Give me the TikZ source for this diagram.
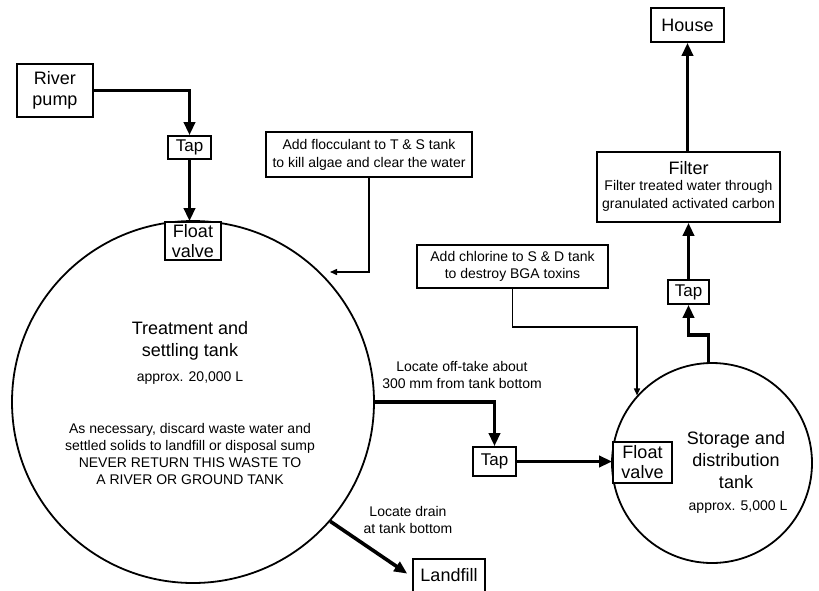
\documentclass[tikz,border=0pt]{standalone}
\usepackage{fontspec}
\setmainfont{Liberation Sans}
\usetikzlibrary{arrows.meta,calc}
\begin{document}
\begin{tikzpicture}[x=1pt,y=-1pt,
  big/.style={font=\fontsize{18}{21}\selectfont},
  small/.style={font=\fontsize{14}{17.5}\selectfont},
  box/.style={draw,line width=1.6pt,fill=white,inner sep=0pt,align=center},
  tank/.style={draw,circle,line width=1.8pt,inner sep=0pt},
  txt/.style={inner sep=0pt,align=center},
  pipe/.style={line width=3.6pt,-{Triangle[length=13pt,width=11pt]}},
  feed/.style={line width=1.4pt,-{Triangle[length=7pt,width=6pt]}}]
\useasboundingbox[fill=white] (0,0) rectangle (819,590);
% tanks
\node[tank,minimum size=362pt] (tank1) at (193,402) {};
\node[tank,minimum size=200pt] (tank2) at (712,463) {};
% boxes
\node[box,minimum width=76pt,minimum height=53pt,font=\fontsize{18}{21}\selectfont] (pump) at (55,90.5) {River\\pump};
\node[box,minimum width=43pt,minimum height=23pt,font=\fontsize{17}{20}\selectfont] (tap1) at (189.5,147.5) {Tap};
\node[box,minimum width=56pt,minimum height=38pt,font=\fontsize{18}{20}\selectfont] (fv1) at (193,241) {Float\\valve};
\node[box,minimum width=206pt,minimum height=45pt,font=\fontsize{14}{18}\selectfont] (flocc) at (369,154.5) {Add flocculant to T \& S tank\\to kill algae and clear the water};
\node[box,minimum width=191pt,minimum height=43pt,font=\fontsize{14}{17}\selectfont] (chlor) at (512.5,266.5) {Add chlorine to S \& D tank\\to destroy BGA toxins};
\node[box,minimum width=43pt,minimum height=29pt,font=\fontsize{17}{20}\selectfont] (tap2) at (494.5,461.5) {Tap};
\node[box,minimum width=59pt,minimum height=41pt,font=\fontsize{18}{20}\selectfont] (fv2) at (642.5,462.5) {Float\\valve};
\node[box,minimum width=41pt,minimum height=24pt,font=\fontsize{17}{20}\selectfont] (tap3) at (688.5,292) {Tap};
\node[box,minimum width=183pt,minimum height=70pt] (filter) at (688.5,187) {};
\node[box,minimum width=73pt,minimum height=34pt,font=\fontsize{18}{21}\selectfont] (house) at (687.5,25) {House};
\node[box,minimum width=72pt,minimum height=36pt,font=\fontsize{18}{21}\selectfont] (landfill) at (449,577) {};
% texts
\node[txt,big] (fil1) at (688.5,168) {Filter};
\node[txt,font=\fontsize{14}{18}\selectfont] (fil2) at (688.5,196) {Filter treated water through\\granulated activated carbon};
\node[txt,font=\fontsize{18}{21}\selectfont] (lfl) at (449,575) {Landfill};
\node[txt,font=\fontsize{18}{22}\selectfont] (t1a) at (190,341) {Treatment and\\ settling tank};
\node[txt,small] (t1b) at (190,378) {approx. 20,000 L};
\node[txt,font=\fontsize{14}{17.3}\selectfont] (t1c) at (190,454) {As necessary, discard waste water and\\settled solids to landfill or disposal sump\\NEVER RETURN THIS WASTE TO\\A RIVER OR GROUND TANK};
\node[txt,font=\fontsize{18}{22}\selectfont] (t2a) at (736,460.5) {Storage and\\distribution\\tank};
\node[txt,small] (t2b) at (738,507) {approx. 5,000 L};
\node[txt,font=\fontsize{14}{17}\selectfont] (lofft) at (462,375) {Locate off-take about\\300 mm from tank bottom};
\node[txt,font=\fontsize{14}{16.5}\selectfont] (ldrain) at (408,520) {Locate drain\\at tank bottom};
% connectors
\coordinate (c1) at (330,272);
\coordinate (c2) at (637,327);
\draw[pipe] (pump.east) -| (tap1.north);
\draw[pipe] (tap1.south) -- (tap1.south |- fv1.north);
\draw[pipe] (tank1.east) -| (tap2.north);
\draw[pipe] (tap2.east) -- (tap2.east -| fv2.west);
\draw[pipe] (tank2.92) -- ++(0,-27) -| (tap3.south);
\draw[pipe] (tap3.north) -- (tap3.north |- filter.south);
\draw[pipe] (filter.north -| house.south) -- (house.south);
\draw[pipe,shorten >=6pt] (tank1.-41) -- (landfill.west);
\draw[feed] (flocc.south) |- (c1);
\draw[feed] (chlor.south) |- (c2) -- (c2 |- tank2.138);
\end{tikzpicture}
\end{document}
